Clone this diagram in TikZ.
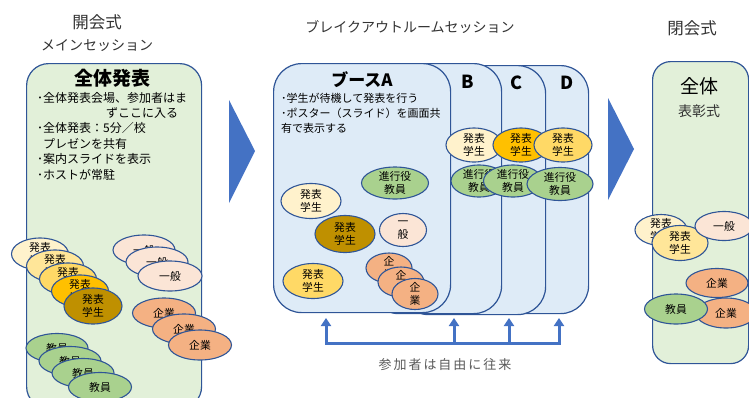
\documentclass[tikz,border=0pt]{standalone}
\usepackage{fontspec}
\setmainfont{Noto Sans CJK JP}
\usepackage{tikz}
\usetikzlibrary{arrows.meta, positioning, shapes.geometric}
\definecolor{edge}{HTML}{2F5597}
\definecolor{arrowblue}{HTML}{4472C4}
\definecolor{plenarybg}{HTML}{E2F0D9}
\definecolor{boothbg}{HTML}{DEEBF7}
\definecolor{cream}{HTML}{FFF2CC}
\definecolor{pale}{HTML}{FFE699}
\definecolor{gold}{HTML}{FFD966}
\definecolor{amber}{HTML}{FFC000}
\definecolor{ochre}{HTML}{BF9000}
\definecolor{peach}{HTML}{FBE5D6}
\definecolor{salmon}{HTML}{F4B183}
\definecolor{leaf}{HTML}{A9D18E}
\tikzset{gate/.tip={Triangle[length=8pt,width=10pt]}}

\begin{document}
\begin{tikzpicture}[x=1pt, y=-1pt,
    hall/.style={draw=edge, line width=1.2pt, fill=plenarybg, rounded corners=22pt, anchor=north west},
    booth/.style={draw=edge, line width=1.2pt, fill=boothbg, rounded corners=28pt, anchor=north west},
    pill/.style={ellipse, draw=edge, line width=1.1pt, minimum width=57, minimum height=32, inner xsep=0pt, inner ysep=-3pt, align=center, font=\fontsize{10.8}{13.5}\selectfont},
    title/.style={font=\fontsize{16.5}{19}\selectfont, text=black!80},
    kana/.style={font=\fontsize{14}{17}\selectfont, text=black!80},
    head/.style={font=\fontsize{19}{22}\selectfont\bfseries},
    memo/.style={font=\fontsize{12}{15.6}\selectfont, align=left, anchor=west, inner sep=0pt},
    flow/.style={draw=arrowblue, line width=3pt, line join=miter}]
    \useasboundingbox (0,0) rectangle (749,397);

    % opening session
    \node[hall, minimum width=175, minimum height=345] (plenary) at (26,63) {};
    \node[title] (openT) at (97,22) {開会式};
    \node[kana] (openS) at (97,46) {メインセッション};
    \node[head] (plenaryT) at (112,78) {全体発表};
    \node[memo] (memo1) at (37,98) {･全体発表会場、参加者はま};
    \node[memo, anchor=center] (memo2) at (142,113) {ずここに入る};
    \node[memo] (memo3) at (37,151.5) {･全体発表：5分／校\\\hspace{0.5em}プレゼンを共有\\･案内スライドを表示\\･ホストが常駐};

    \node[pill, fill=cream] (ps1) at (40,254) {発表\\学生};
    \node[pill, fill=pale] (ps2) at (55,266) {発表\\学生};
    \node[pill, fill=gold] (ps3) at (68,279) {発表\\学生};
    \node[pill, fill=amber] (ps4) at (80,291) {発表\\学生};
    \node[pill, fill=ochre, minimum width=58, minimum height=36] (ps5) at (93,306) {発表\\学生};

    \node[pill, fill=peach, minimum width=62, minimum height=30] (pg1) at (144,250) {一般};
    \node[pill, fill=peach, minimum width=62, minimum height=30] (pg2) at (157,262) {一般};
    \node[pill, fill=peach, minimum width=64, minimum height=30] (pg3) at (170,276) {一般};

    \node[pill, fill=salmon, minimum width=63, minimum height=30] (pc1) at (164,313) {企業};
    \node[pill, fill=salmon, minimum width=63, minimum height=30] (pc2) at (184,329) {企業};
    \node[pill, fill=salmon, minimum width=63, minimum height=30] (pc3) at (200,345) {企業};

    \node[pill, fill=leaf, minimum width=62, minimum height=29] (pt1) at (57,348) {教員};
    \node[pill, fill=leaf, minimum width=62, minimum height=29] (pt2) at (70,361) {教員};
    \node[pill, fill=leaf, minimum width=62, minimum height=29] (pt3) at (83,373) {教員};
    \node[pill, fill=leaf, minimum width=63, minimum height=29] (pt4) at (100,387) {教員};

    \fill[arrowblue] (229,100) -- (229,203) -- (255,151) -- cycle;

    % breakout rooms
    \node[kana] (breakT) at (410,27) {ブレイクアウトルームセッション};
    \node[booth, minimum width=168, minimum height=248] (boothD) at (420,65) {};
    \node[booth, minimum width=145, minimum height=249] (boothC) at (400,65) {};
    \node[booth, minimum width=131, minimum height=250] (boothB) at (370,63) {};
    \node[booth, minimum width=177, minimum height=249] (boothA) at (273,63) {};
    \node[head, font=\fontsize{17}{20}\selectfont\bfseries] (labelA) at (362,80) {ブースA};
    \node[head, font=\fontsize{18}{20}\selectfont\bfseries] (labelB) at (468,82) {B};
    \node[head, font=\fontsize{18}{20}\selectfont\bfseries] (labelC) at (516,83) {C};
    \node[head, font=\fontsize{18}{20}\selectfont\bfseries] (labelD) at (567,83) {D};
    \node[memo, font=\fontsize{11}{15}\selectfont] (memoA) at (281,113) {･学生が待機して発表を行う\\･ポスター（スライド）を画面共\\有で表示する};

    \node[pill, fill=leaf, minimum width=67, minimum height=32] (aHost) at (395,183) {進行役\\教員};
    \node[pill, fill=cream, minimum width=60, minimum height=35] (aS1) at (311,201) {発表\\学生};
    \node[pill, fill=ochre, minimum width=60, minimum height=37] (aS2) at (345,234) {発表\\学生};
    \node[pill, fill=peach, minimum width=47, minimum height=33] (aG) at (403,230) {一\\般};
    \node[pill, fill=gold, minimum width=60, minimum height=35] (aS3) at (313,281) {発表\\学生};
    \node[pill, fill=salmon, minimum width=46, minimum height=30] (aC1) at (389,268) {企\\業};
    \node[pill, fill=salmon, minimum width=46, minimum height=30] (aC2) at (401,282) {企\\業};
    \node[pill, fill=salmon, minimum width=46, minimum height=31] (aC3) at (415,294) {企\\業};

    \node[pill, fill=cream, minimum width=56, minimum height=34] (bS) at (474,145) {発表\\学生};
    \node[pill, fill=leaf, minimum width=56, minimum height=32] (bHost) at (479,181) {進行役\\教員};
    \node[pill, fill=amber, minimum width=56, minimum height=34] (cS) at (521,145) {発表\\学生};
    \node[pill, fill=leaf, minimum width=59, minimum height=32] (cHost) at (513,181) {進行役\\教員};
    \node[pill, fill=gold, minimum width=58, minimum height=34] (dS) at (563,145) {発表\\学生};
    \node[pill, fill=leaf, minimum width=66, minimum height=33] (dHost) at (560,184) {進行役\\教員};

    \coordinate (gateA) at (326,318);
    \coordinate (gateB) at (454,318);
    \coordinate (gateC) at (509,318);
    \coordinate (gateD) at (559,318);
    \coordinate (busA) at (326,343);
    \coordinate (busB) at (454,343);
    \coordinate (busC) at (509,343);
    \coordinate (busD) at (559,343);
    \draw[flow, gate-gate] (gateA) -- (busA) -- (busD) -- (gateD);
    \draw[flow, -gate] (busB) -- (gateB);
    \draw[flow, -gate] (busC) -- (gateC);
    \node[font=\fontsize{13}{16}\selectfont\addfontfeature{LetterSpace=15}, text=black!65] (roam) at (445,365) {参加者は自由に往来};

    \fill[arrowblue] (608,98) -- (608,200) -- (634,149) -- cycle;

    % closing ceremony
    \node[hall, rounded corners=18pt, minimum width=96, minimum height=302] (closing) at (652,61) {};
    \node[title] (closeT) at (692,28) {閉会式};
    \node[head, font=\fontsize{19}{22}\selectfont] (closingT) at (699,86) {全体};
    \node[title, font=\fontsize{14}{17}\selectfont] (award) at (699,111) {表彰式};
    \node[pill, fill=cream, minimum width=52, minimum height=31] (zS1) at (661,230) {発表\\学生};
    \node[pill, fill=pale, minimum width=56, minimum height=35] (zS2) at (680,243) {発表\\学生};
    \node[pill, fill=peach, minimum width=58, minimum height=29] (zG) at (724,226) {一般};
    \node[pill, fill=salmon, minimum width=62, minimum height=29] (zC1) at (717,283) {企業};
    \node[pill, fill=salmon, minimum width=60, minimum height=30] (zC2) at (726,313) {企業};
    \node[pill, fill=leaf, minimum width=63, minimum height=30] (zT) at (676,309) {教員};
\end{tikzpicture}
\end{document}
